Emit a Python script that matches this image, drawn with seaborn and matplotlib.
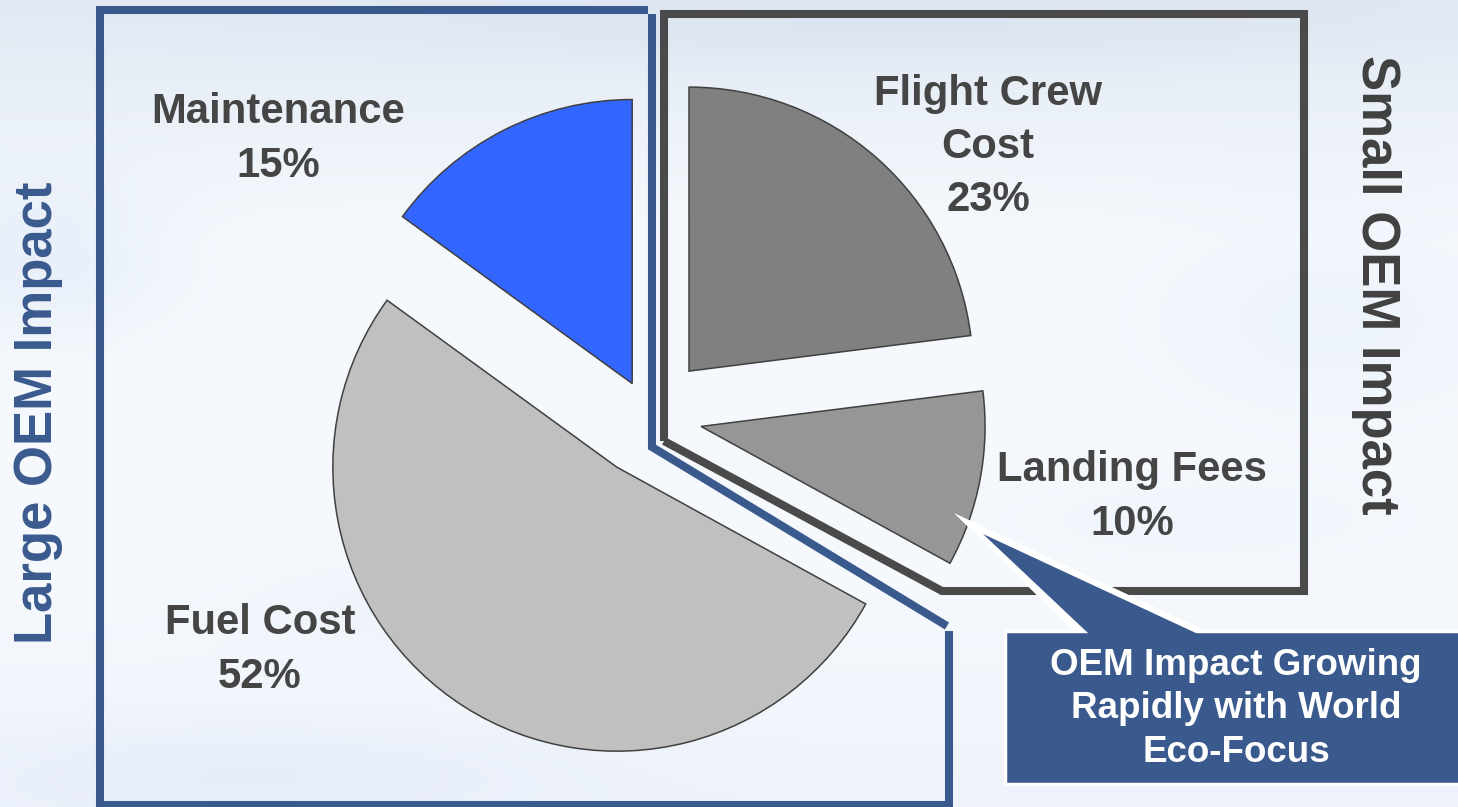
import numpy as np
import matplotlib
matplotlib.use("Agg")
import matplotlib.pyplot as plt
from matplotlib.patches import Polygon, Rectangle
import seaborn as sns

# Operating cost breakdown
categories = ["Maintenance", "Fuel Cost", "Landing Fees", "Flight Crew\nCost"]
shares = [15, 52, 10, 23]
slice_colors = ["#3366ff", "#c0c0c0", "#969696", "#808080"]

group_titles = ["Large OEM Impact", "Small OEM Impact"]
callout_text = "OEM Impact Growing\nRapidly with World\nEco-Focus"

sns.set_theme(style="white")
plt.rcParams["font.family"] = ["Liberation Sans", "DejaVu Sans"]

W, H = 1458, 807
fig = plt.figure(figsize=(W / 100, H / 100), dpi=100)
ax = fig.add_axes([0, 0, 1, 1])


def py(y):
    """Convert a top-down pixel row to the axes' upward data coordinate."""
    return H - y


# Pale sky backdrop with soft cloud banks
yy, xx = np.mgrid[0:H, 0:W].astype(float)
top = np.array([226, 233, 243]) / 255
mid = np.array([246, 250, 254]) / 255
bot = np.array([238, 243, 251]) / 255
t = yy / H
w_top = np.clip(1 - t / 0.3, 0, 1)[..., None]
w_bot = np.clip((t - 0.7) / 0.3, 0, 1)[..., None]
sky = np.broadcast_to(mid, (H, W, 3)).copy()
sky = sky * (1 - w_top) + top * w_top
sky = sky * (1 - w_bot) + bot * w_bot
banks = [(40, 260, 140, 80, 0.05), (900, 30, 500, 35, 0.03), (1330, 320, 200, 110, 0.03),
         (420, 600, 180, 50, 0.025), (1200, 520, 240, 50, 0.02), (250, 770, 300, 50, 0.03)]
for cx, cy, sx, sy, amp in banks:
    g = np.exp(-(((xx - cx) / sx) ** 2 + ((yy - cy) / sy) ** 2))[..., None]
    sky = sky - amp * g * np.array([1.0, 0.8, 0.35])
ax.imshow(np.clip(sky, 0, 1), extent=(0, W, 0, H), origin="upper", zorder=0, aspect="auto")

# Exploded pie
wedges, _ = ax.pie(
    shares,
    colors=slice_colors,
    startangle=90,
    counterclock=True,
    radius=284,
    center=(649, 390.5),
    explode=[37, 60, 53, 60.5],
    wedgeprops=dict(edgecolor="#404040", linewidth=1.1),
)
for w in wedges:
    w.set_zorder(3)

# Group outlines
blue = "#3a5a8e"
grey_line = "#4a4a4a"
lw = 5.8
ax.plot([947, 652, 652], [py(626), py(447), py(14)], color=blue, lw=lw,
        solid_joinstyle="miter", solid_capstyle="butt", zorder=2)
ax.plot([648, 100, 100, 949, 949], [py(10), py(10), py(805), py(805), py(631)], color=blue,
        lw=lw, solid_joinstyle="miter", solid_capstyle="butt", zorder=2)
ax.plot([664, 664, 1304, 1304, 942, 664], [py(441), py(14), py(14), py(591), py(591), py(441)],
        color=grey_line, lw=lw, solid_joinstyle="miter", solid_capstyle="butt", zorder=2)

# Slice labels
label_pos = [(278, 139), (260, 650), (1132, 497), (988, 147)]
for name, share, (lx, ly) in zip(categories, shares, label_pos):
    ax.text(lx, py(ly), f"{name}\n{share}%", ha="center", va="center", multialignment="center",
            fontsize=30.2, fontweight="bold", color="#454545", linespacing=1.42, zorder=4)

# Group titles
ax.text(38, py(413), group_titles[0], rotation=90, ha="center", va="center",
        fontsize=38, fontweight="bold", color=blue, zorder=4)
ax.text(1376, py(285), group_titles[1], rotation=270, ha="center", va="center",
        fontsize=38, fontweight="bold", color="#404040", zorder=4)

# Callout
ax.add_patch(Polygon([(954, py(513)), (1076, py(634)), (1212, py(634))], closed=True,
                     facecolor="white", edgecolor="none", zorder=5))
ax.add_patch(Polygon([(983, py(534)), (1089, py(634)), (1198, py(634))], closed=True,
                     facecolor=blue, edgecolor="none", zorder=6))
ax.add_patch(Rectangle((1005, py(784)), 470, 153, facecolor=blue, edgecolor="white",
                       linewidth=2.5, zorder=5))
ax.text(1236, py(709), callout_text, ha="center", va="center", multialignment="center",
        fontsize=26.5, fontweight="bold", color="white", linespacing=1.3, zorder=7)

ax.set_xlim(0, W)
ax.set_ylim(0, H)
ax.set_aspect("equal")
ax.axis("off")

fig.savefig("out.png", dpi=100)
